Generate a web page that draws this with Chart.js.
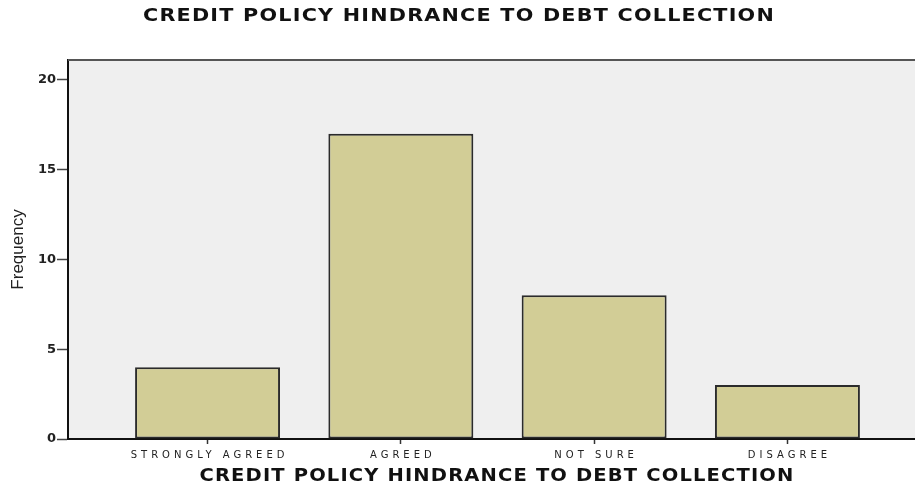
<!DOCTYPE html>
<html>
<head>
<meta charset="utf-8">
<script src="https://cdn.jsdelivr.net/npm/chart.js@4.4.1/dist/chart.umd.min.js"></script>
<style>
  html, body { margin: 0; padding: 0; background: #fff; }
  #wrap { width: 915px; height: 490px; }
</style>
</head>
<body>
<div id="wrap"><canvas id="chart" width="915" height="490"></canvas></div>
<script>
// ===== DATA =====
const categories = ["STRONGLY AGREED", "AGREED", "NOT SURE", "DISAGREE"];
const frequency = [4, 17, 8, 3];
const yTicks = [0, 5, 10, 15, 20];
const titleText = "CREDIT POLICY HINDRANCE TO DEBT COLLECTION";
const yTitle = "Frequency";

// wide heading text, stretched horizontally to a given width
function drawWide(ctx, text, cx, cy, width) {
  ctx.save();
  ctx.letterSpacing = "1px";
  const w = ctx.measureText(text).width;
  ctx.translate(cx, cy);
  ctx.scale(width / w, 1);
  ctx.fillText(text, 0, 0);
  ctx.restore();
}

// ===== PLUGIN: panel background, borders, text =====
const spssFrame = {
  id: "spssFrame",
  beforeDraw(chart) {
    const { ctx, chartArea: a } = chart;
    ctx.save();
    ctx.fillStyle = "#efefef";
    ctx.fillRect(a.left, a.top, a.right - a.left, a.bottom - a.top);
    ctx.restore();
  },
  afterDraw(chart) {
    const { ctx, chartArea: a } = chart;
    const xs = chart.scales.x;
    ctx.save();
    // top frame line
    ctx.strokeStyle = "#555";
    ctx.lineWidth = 2;
    ctx.beginPath();
    ctx.moveTo(a.left, a.top);
    ctx.lineTo(a.right, a.top);
    ctx.stroke();

    ctx.fillStyle = "#111";
    ctx.textAlign = "center";
    ctx.textBaseline = "middle";

    // chart title + x axis title
    ctx.font = "bold 17px 'DejaVu Sans'";
    drawWide(ctx, titleText, 459, 17, 632);
    drawWide(ctx, titleText, 497, 477, 595);

    // category labels
    ctx.fillStyle = "#222";
    ctx.font = "10px 'DejaVu Sans'";
    ctx.letterSpacing = "4px";
    categories.forEach((c, i) => {
      ctx.fillText(c, xs.getPixelForValue(i) + 2, 455);
    });

    // y axis title
    ctx.letterSpacing = "0px";
    ctx.font = "17px 'Liberation Sans'";
    ctx.translate(18, (a.top + a.bottom) / 2);
    ctx.rotate(-Math.PI / 2);
    ctx.fillText(yTitle, 0, 0);
    ctx.restore();
  }
};

// ===== CHART =====
new Chart(document.getElementById("chart"), {
  type: "bar",
  data: {
    datasets: [{
      label: yTitle,
      data: categories.map((c, i) => ({ x: i, y: frequency[i] })),
      backgroundColor: "#d2cd96",
      borderColor: "#2b2b2b",
      borderWidth: 2,
      borderSkipped: false,
      categoryPercentage: 1,
      barPercentage: 0.75
    }]
  },
  options: {
    responsive: false,
    animation: false,
    layout: { padding: { top: 60, left: 0, right: 0, bottom: 0 } },
    plugins: { legend: { display: false }, tooltip: { enabled: false } },
    scales: {
      x: {
        type: "linear",
        offset: false,
        min: -0.722,
        max: 3.66,
        afterFit(s) { s.height = 51; },
        afterBuildTicks(s) { s.ticks = categories.map((c, i) => ({ value: i })); },
        grid: { offset: false, drawOnChartArea: false, tickLength: 5, tickColor: "#333", tickWidth: 1.5 },
        border: { color: "#111", width: 2 },
        ticks: { callback: () => "", autoSkip: false }
      },
      y: {
        min: 0,
        max: 21.1,
        afterFit(s) { s.width = 68; },
        afterBuildTicks(s) { s.ticks = yTicks.map(v => ({ value: v })); },
        grid: { drawOnChartArea: false, tickLength: 11, tickColor: "#444", tickWidth: 1.5 },
        border: { color: "#111", width: 2 },
        ticks: { color: "#222", font: { family: "DejaVu Sans", size: 13, weight: "bold" }, padding: 1 }
      }
    }
  },
  plugins: [spssFrame]
});
</script>
</body>
</html>
